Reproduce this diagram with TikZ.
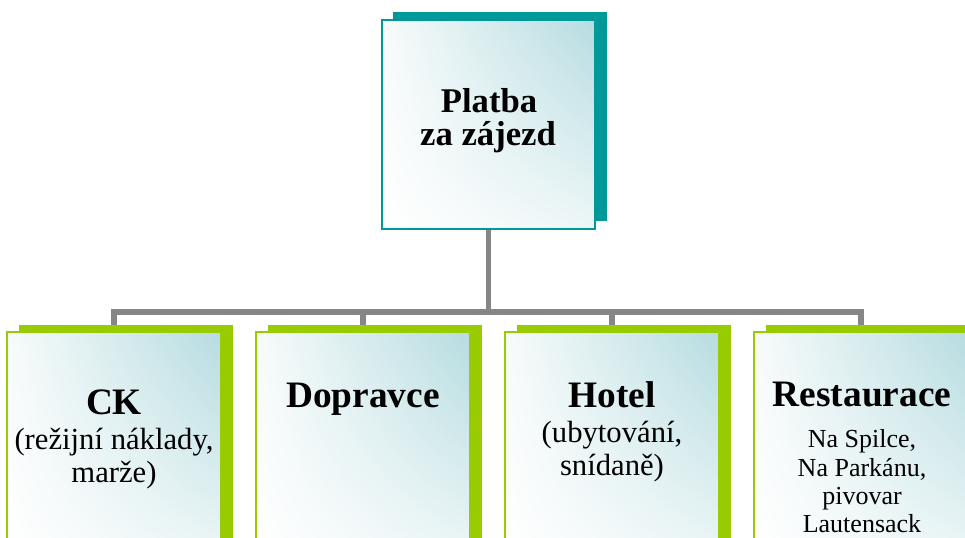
\documentclass[tikz,border=0pt]{standalone}
\usepackage{fontspec}
\setmainfont{Liberation Serif}
\usetikzlibrary{shadings,shadows}
\pgfdeclarelayer{paper}
\pgfdeclarelayer{links}
\pgfsetlayers{paper,links,main}
\definecolor{tealc}{HTML}{009999}
\definecolor{greenc}{HTML}{99CC00}
\definecolor{shadec}{HTML}{B6DCE0}
\definecolor{shadelr}{HTML}{EDF6F7}
\definecolor{shadeul}{HTML}{F8FBFB}
\definecolor{connc}{HTML}{868686}
\begin{document}
\begin{tikzpicture}[x=0.75pt,y=-0.75pt,
  boxbase/.style={rectangle, inner sep=0pt, line width=1.4pt, shade,
    upper right=shadec, upper left=shadeul, lower left=white, lower right=shadelr},
  topbox/.style={boxbase, draw=tealc, minimum width=160pt, minimum height=156.75pt,
    drop shadow={shadow xshift=8.8pt, shadow yshift=5.8pt, opacity=1, fill=tealc}},
  childbox/.style={boxbase, draw=greenc, minimum width=160.5pt, minimum height=171pt,
    drop shadow={shadow xshift=9pt, shadow yshift=5.4pt, opacity=1, fill=greenc}},
  conn/.style={draw=connc, line width=4.1pt},
  headtop/.style={anchor=base, inner sep=0pt, font=\fontsize{26}{30}\selectfont\bfseries},
  head/.style={anchor=base, inner sep=0pt, font=\fontsize{28}{32}\selectfont\bfseries},
  sub/.style={anchor=base, inner sep=0pt, font=\fontsize{23}{26}\selectfont},
  subsmall/.style={anchor=base, inner sep=0pt, font=\fontsize{19.5}{22}\selectfont}]
\useasboundingbox (0,0) rectangle (965,537);
\begin{pgfonlayer}{paper}
  \fill[white] (0,0) rectangle (965,537);
\end{pgfonlayer}
\clip (0,0) rectangle (965,537);

\node[topbox] (top) at (488.3,124.5) {};
\node[childbox] (ck) at (114,446) {};
\node[childbox] (dop) at (363,446) {};
\node[childbox] (hot) at (612,446) {};
\node[childbox] (res) at (861,446) {};

\coordinate (bar) at (0,312);
\begin{pgfonlayer}{links}
  \foreach \c in {ck,dop,hot,res}
    \draw[conn] (top.south) -- (top.south |- bar) -| (\c.north);
\end{pgfonlayer}

\node[headtop] (t1) at (489,112) {Platba};
\node[headtop] (t2) at (488,145) {za zájezd};

\node[head] (ck1) at (114,414) {CK};
\node[sub] (ck2) at (114,449) {(režijní náklady,};
\node[sub] (ck3) at (114,482) {marže)};

\node[head] (dop1) at (363,407) {Dopravce};

\node[head] (hot1) at (612,407) {Hotel};
\node[sub] (hot2) at (612,442) {(ubytování,};
\node[sub] (hot3) at (612,475) {snídaně)};

\node[head] (res1) at (862,406) {Restaurace};
\node[subsmall] (res2) at (862,447) {Na Spilce,};
\node[subsmall] (res3) at (862,476) {Na Parkánu,};
\node[subsmall] (res4) at (862,504) {pivovar};
\node[subsmall] (res5) at (862,532) {Lautensack};
\end{tikzpicture}
\end{document}
